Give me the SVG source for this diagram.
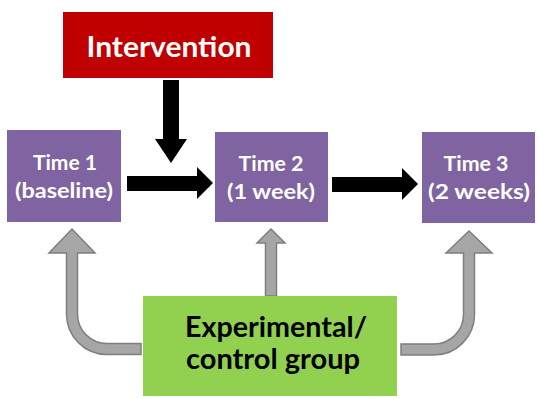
<svg xmlns="http://www.w3.org/2000/svg" width="539" height="398" viewBox="0 0 539 398">
<style>
.t{font-family:Lato,"Liberation Sans",sans-serif;font-weight:700;text-anchor:middle}
.w{fill:#ffffff}
.k{fill:#000000}
.p{fill:#8064A2}
.blk{fill:#000000}
.gry{fill:#A6A6A6;stroke:#7F7F7F;stroke-width:1.5;stroke-linejoin:miter}
</style>
<rect width="539" height="398" fill="#ffffff"/>
<g id="connectors">
<path class="blk" d="M163,80 V139 H155 L171,163 L187,139 H179 V80 Z"/>
<path class="blk" d="M127,176 H197 V167 L213,183 L197,199 V191 H127 Z"/>
<path class="blk" d="M332,177 H402 V168 L418,184 L402,200 V192 H332 Z"/>
<path class="gry" d="M141,343.5 H107 A29.5,29.5 0 0 1 77.5,314 V253 H95 L72,229 L49,253 H66.5 V314 A40.5,40.5 0 0 0 107,354.5 H141 Z"/>
<path class="gry" d="M265.5,296 V243 H257 L271,229 L285,243 H276.5 V296 Z"/>
<path class="gry" d="M401,344 H434 A29.5,29.5 0 0 0 463.5,314.5 V253 H446 L469,231 L492,253 H474.5 V314.5 A40.5,40.5 0 0 1 434,355 H401 Z"/>
</g>
<g id="intervention">
<rect x="63" y="12" width="210" height="66" fill="#C00000"/>
<text class="t w" x="169" y="57" font-size="28" textLength="165" lengthAdjust="spacingAndGlyphs">Intervention</text>
</g>
<g id="time1">
<rect class="p" x="7" y="130" width="114" height="92"/>
<text class="t w" x="65" y="170" font-size="20" textLength="64" lengthAdjust="spacingAndGlyphs">Time 1</text>
<text class="t w" x="64" y="198" font-size="20" textLength="98" lengthAdjust="spacingAndGlyphs">(baseline)</text>
</g>
<g id="time2">
<rect class="p" x="215" y="132" width="113" height="90"/>
<text class="t w" x="271" y="171" font-size="20" textLength="65" lengthAdjust="spacingAndGlyphs">Time 2</text>
<text class="t w" x="271" y="199" font-size="20" textLength="88" lengthAdjust="spacingAndGlyphs">(1 week)</text>
</g>
<g id="time3">
<rect class="p" x="422" y="132" width="113" height="91"/>
<text class="t w" x="476" y="171" font-size="20" textLength="65" lengthAdjust="spacingAndGlyphs">Time 3</text>
<text class="t w" x="479" y="199" font-size="20" textLength="102" lengthAdjust="spacingAndGlyphs">(2 weeks)</text>
</g>
<g id="group">
<rect x="143" y="296" width="254" height="100" fill="#92D050"/>
<text class="t k" x="276" y="337" font-size="28" textLength="182" lengthAdjust="spacingAndGlyphs">Experimental/</text>
<text class="t k" x="273" y="369" font-size="28" textLength="174" lengthAdjust="spacingAndGlyphs">control group</text>
</g>
</svg>
